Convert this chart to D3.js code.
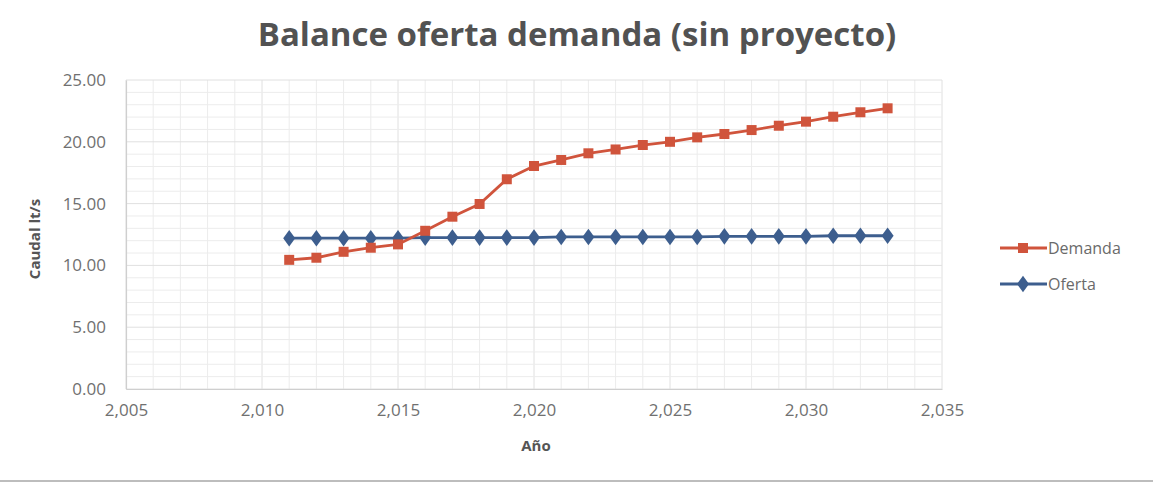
<!DOCTYPE html>
<html><head><meta charset="utf-8">
<script src="https://cdn.jsdelivr.net/npm/d3@7"></script>
<style>body{margin:0;background:#fff}svg{display:block}</style>
</head><body><svg id="c" width="1153" height="486"></svg>
<script>
const years = [2011,2012,2013,2014,2015,2016,2017,2018,2019,2020,2021,2022,2023,2024,2025,2026,2027,2028,2029,2030,2031,2032,2033];
const demanda = [10.45,10.62,11.1,11.43,11.7,12.8,13.94,14.97,16.97,18.04,18.53,19.07,19.38,19.74,20.0,20.36,20.63,20.95,21.3,21.63,22.03,22.39,22.71];
const oferta = [12.2,12.2,12.2,12.2,12.2,12.25,12.25,12.25,12.25,12.25,12.3,12.3,12.3,12.3,12.3,12.3,12.35,12.35,12.35,12.35,12.4,12.4,12.4];
const xTicks = [2005,2010,2015,2020,2025,2030,2035];
const yTicks = [0,5,10,15,20,25];
const seriesNames = ["Demanda","Oferta"];

const svg = d3.select("#c");
const x = d3.scaleLinear().domain([2005,2035]).range([126,942]);
const y = d3.scaleLinear().domain([0,25]).range([389,80]);
const font = "'Open Sans', sans-serif";

const g = svg.append("g");
g.selectAll("line.vx").data(d3.range(2005,2036)).join("line")
  .attr("x1",d=>x(d)).attr("x2",d=>x(d)).attr("y1",y(25)).attr("y2",y(0))
  .attr("stroke",d=>d%5===0?"#e0e0e0":"#ececec").attr("stroke-width",1);
g.selectAll("line.hy").data(d3.range(0,26)).join("line")
  .attr("x1",x(2005)).attr("x2",x(2035)).attr("y1",d=>y(d)).attr("y2",d=>y(d))
  .attr("stroke",d=>d%5===0?"#e0e0e0":"#ececec").attr("stroke-width",1);

const xa = svg.append("g").attr("transform",`translate(0,${y(0)})`)
  .call(d3.axisBottom(x).tickValues(xTicks).tickSize(0).tickPadding(15).tickFormat(d3.format(",")));
const ya = svg.append("g").attr("transform",`translate(${x(2005)},0)`)
  .call(d3.axisLeft(y).tickValues(yTicks).tickSize(0).tickPadding(20).tickFormat(d3.format(".2f")));
[xa,ya].forEach(a=>{
  a.select(".domain").attr("stroke","#cfcfcf").attr("stroke-width",1.2);
  a.selectAll("text").attr("font-family",font).attr("font-size",17).attr("fill","#707070");
});

const line = d3.line().x((d,i)=>x(years[i])).y(d=>y(d));
const colD = "#d0543c", colO = "#3d5e8e";
svg.append("path").datum(oferta).attr("d",line).attr("fill","none").attr("stroke",colO).attr("stroke-width",2.8);
svg.append("path").datum(demanda).attr("d",line).attr("fill","none").attr("stroke",colD).attr("stroke-width",2.8);
const dia = d3.symbol().type(d3.symbolDiamond).size(80);
const sq = d3.symbol().type(d3.symbolSquare).size(100);
svg.selectAll("path.mo").data(oferta).join("path").attr("class","mo")
  .attr("d",dia).attr("transform",(d,i)=>`translate(${x(years[i])},${y(d)}) scale(1.25,1)`).attr("fill",colO);
svg.selectAll("path.md").data(demanda).join("path").attr("class","md")
  .attr("d",sq).attr("transform",(d,i)=>`translate(${x(years[i])},${y(d)})`).attr("fill",colD);

svg.append("text").attr("x",577).attr("y",46).attr("text-anchor","middle")
  .attr("font-family",font).attr("font-weight","bold").attr("font-size",33).attr("fill","#525252")
  .text("Balance oferta demanda (sin proyecto)");
svg.append("text").attr("x",536).attr("y",451).attr("text-anchor","middle")
  .attr("font-family",font).attr("font-weight","bold").attr("font-size",15).attr("fill","#555")
  .text("Año");
svg.append("text").attr("transform","translate(40,239) rotate(-90)").attr("text-anchor","middle")
  .attr("font-family",font).attr("font-weight","bold").attr("font-size",15).attr("fill","#555")
  .text("Caudal lt/s");

const leg = svg.append("g");
const lc = [colD,colO];
seriesNames.forEach((n,i)=>{
  const ly = 248 + i*36;
  leg.append("line").attr("x1",1000).attr("x2",1047).attr("y1",ly).attr("y2",ly).attr("stroke",lc[i]).attr("stroke-width",2.8);
  leg.append("path").attr("d",i===0?sq:dia).attr("transform",i===0?`translate(1023,${ly})`:`translate(1023,${ly}) scale(1.25,1)`).attr("fill",lc[i]);
  leg.append("text").attr("x",1048).attr("y",ly+6).attr("font-family",font).attr("font-size",16).attr("fill","#6a6a6a").text(n);
});
svg.append("line").attr("x1",0).attr("x2",1153).attr("y1",481).attr("y2",481).attr("stroke","#bdbdbd").attr("stroke-width",2);
</script></body></html>
